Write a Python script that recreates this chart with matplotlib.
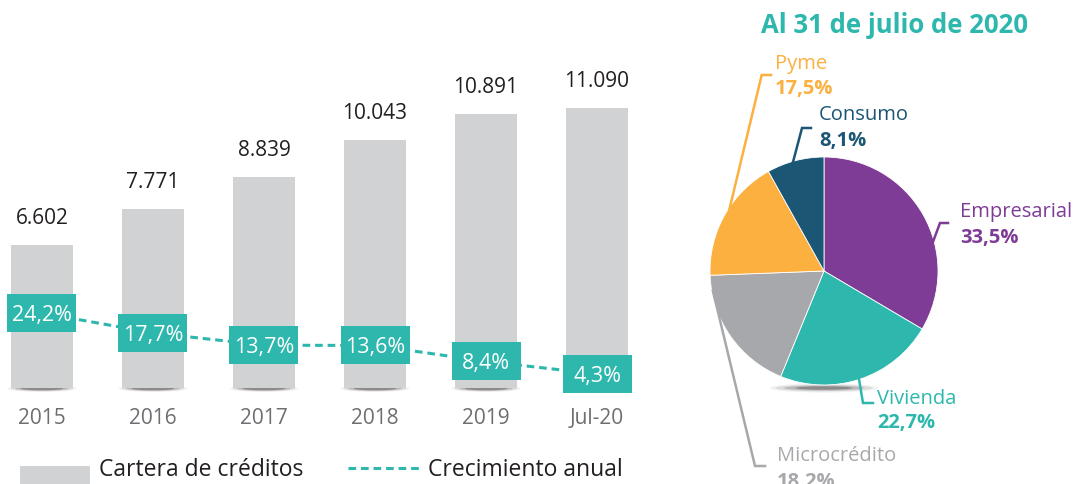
import matplotlib
matplotlib.use("Agg")
import matplotlib.pyplot as plt
import matplotlib.transforms as mtransforms
from matplotlib.patches import Rectangle, Ellipse
from matplotlib.lines import Line2D
import numpy as np

plt.rcParams['font.family'] = ['Open Sans', 'DejaVu Sans']

# ---- data ----
years = ["2015", "2016", "2017", "2018", "2019", "Jul-20"]
cartera = [6.602, 7.771, 8.839, 10.043, 10.891, 11.090]
cartera_labels = ["6.602", "7.771", "8.839", "10.043", "10.891", "11.090"]
crecimiento = [24.2, 17.7, 13.7, 13.6, 8.4, 4.3]
crec_labels = ["24,2%", "17,7%", "13,7%", "13,6%", "8,4%", "4,3%"]

segmentos = ["Empresarial", "Vivienda", "Microcrédito", "Pyme", "Consumo"]
participacion = [33.5, 22.7, 18.2, 17.5, 8.1]
part_labels = ["33,5%", "22,7%", "18,2%", "17,5%", "8,1%"]

title_pie = "Al 31 de julio de 2020"
legend_bar = "Cartera de créditos"
legend_line = "Crecimiento anual"

# ---- colours ----
BAR = "#d1d2d4"
TEAL = "#2db7ad"
DARK = "#231f20"
GREY_TXT = "#6d6e71"
pie_colors = ["#7e3c96", "#2db7ad", "#a7a8ab", "#fbb040", "#1b5675"]

W, H = 1082, 484
fig = plt.figure(figsize=(W / 100, H / 100), dpi=100)

def P(x, y):
    return (x / W, 1 - y / H)

# ---- bar chart ----
ax = fig.add_axes([0, 96 / H, 640 / W, 368 / H])
x = np.arange(len(years))
ax.set_xlim(-0.378, 5.387)
ax.set_ylim(1.916, 13.97)
for s in ax.spines.values():
    s.set_visible(False)
ax.set_xticks([])
ax.set_yticks([])

# shadows under bars
btr = mtransforms.blended_transform_factory(ax.transData, ax.transAxes)
for xi in x:
    for w, h, a in [(0.62, 7, 0.06), (0.56, 5.5, 0.10), (0.48, 4.5, 0.18), (0.38, 3.5, 0.30)]:
        ax.add_patch(Ellipse((xi, -0.5 / 368), w, h / 368, transform=btr,
                             facecolor="#231f20", edgecolor="none", alpha=a,
                             clip_on=False, zorder=0))

ax.bar(x, cartera, width=0.555, color=BAR, zorder=2)

for xi, v, lab in zip(x, cartera, cartera_labels):
    ax.annotate(lab, (xi, v), xytext=(0, 15), textcoords="offset points",
                ha="center", va="baseline", fontsize=15, color=DARK)

for xi, lab in zip(x, years):
    ax.annotate(lab, (xi, 0), xycoords=btr, xytext=(0, -26), textcoords="offset points",
                ha="center", va="baseline", fontsize=15, color=GREY_TXT, annotation_clip=False)

ax2 = ax.twinx()
ax2.set_ylim(-0.27, 119.8)
ax2.set_xlim(ax.get_xlim())
for s in ax2.spines.values():
    s.set_visible(False)
ax2.set_yticks([])
ln, = ax2.plot(x, crecimiento, color=TEAL, lw=2.2, zorder=3)
ln.set_dashes([2.5, 1.6])
bw, bh = 69 / 111, 38 / 3.065
for xi, v, lab in zip(x, crecimiento, crec_labels):
    ax2.add_patch(Rectangle((xi - bw / 2, v - bh / 2), bw, bh, facecolor=TEAL,
                            edgecolor="none", zorder=4, clip_on=False))
    ax2.text(xi, v, lab, ha="center", va="center_baseline", fontsize=15.5,
             color="white", zorder=5, clip_on=False)

# legend
fig.patches.append(Rectangle(P(20, 490), 70 / W, 24 / H, transform=fig.transFigure,
                             facecolor=BAR, edgecolor="none"))
fig.text(*P(99, 476), legend_bar, fontsize=16.5, color=DARK, va="baseline", ha="left")
lx0, ly = P(348, 468)
lx1, _ = P(420, 468)
lg = Line2D([lx0, lx1], [ly, ly], transform=fig.transFigure, color=TEAL, lw=2.2)
lg.set_dashes([2.5, 1.6])
fig.lines.append(lg)
fig.text(*P(428, 476), legend_line, fontsize=16.5, color=DARK, va="baseline", ha="left")

# ---- pie chart ----
cx, cy, R = 824, 271, 114
axp = fig.add_axes([(cx - R) / W, (H - cy - R) / H, 2 * R / W, 2 * R / H])
axp.set_xlim(-1, 1)
axp.set_ylim(-1, 1)
axp.axis("off")

# pie shadow
for w, h, a in [(0.95, 0.08, 0.06), (0.85, 0.06, 0.10), (0.7, 0.045, 0.18), (0.5, 0.03, 0.3)]:
    axp.add_patch(Ellipse((0, -1.0 - 3 / R), w, h, facecolor="#231f20", edgecolor="none",
                          alpha=a, clip_on=False, zorder=0))

wedges, _ = axp.pie(participacion, colors=pie_colors, startangle=90, counterclock=False,
                    radius=1, wedgeprops=dict(edgecolor="white", linewidth=0.6),
                    frame=False)
axp.set_xlim(-1, 1)
axp.set_ylim(-1, 1)
axp.set_aspect("equal")

def D(px, py):
    return ((px - cx) / R, (cy - py) / R)

# label specs: (elbow pixel, stub end pixel, text x, name baseline, pct baseline, angle of start)
specs = {
    "Empresarial": ((940, 223), (948, 223), 960, 217, 243, 15),
    "Vivienda": ((863, 403), (873, 403), 877, 404, 428, -72),
    "Microcrédito": ((755, 466), (765, 466), 777, 461, 487, -170),
    "Pyme": ((761.7, 75), (771, 75), 775, 69, 94, 147),
    "Consumo": ((802, 128), (811, 128), 819, 120, 146, 106),
}
for name, pct, col in zip(segmentos, part_labels, pie_colors):
    (ex, ey), (sx, sy), tx, nb, pb, ang = specs[name]
    a = np.deg2rad(ang)
    p0 = (0.99 * np.cos(a), 0.99 * np.sin(a))
    p1 = D(ex, ey)
    p2 = D(sx, sy)
    axp.plot([p0[0], p1[0], p2[0]], [p0[1], p1[1], p2[1]], color=col, lw=1.8,
             clip_on=False, solid_joinstyle="miter", zorder=5)
    fig.text(*P(tx, nb), name, fontsize=14.5, color=col, va="baseline", ha="left")
    fig.text(*P(tx, pb), pct, fontsize=14.5, color=col, va="baseline", ha="left",
             fontweight="bold")

fig.text(*P(894.5, 33), title_pie, fontsize=18.5, fontweight="bold", color=TEAL,
         ha="center", va="baseline")

fig.savefig("out.png", dpi=100)
